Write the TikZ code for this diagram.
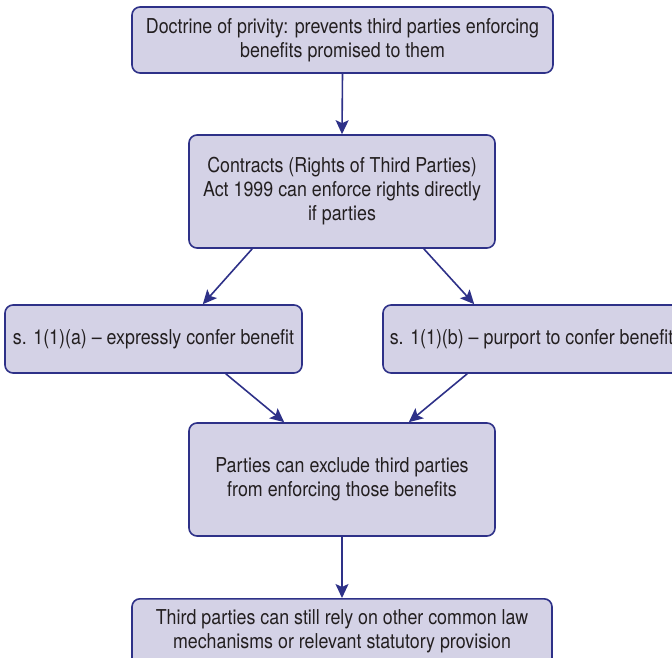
\documentclass[tikz,border=0pt]{standalone}
\usepackage{fontspec}
\setmainfont[FakeStretch=0.87]{TeX Gyre Heros}
\usetikzlibrary{arrows.meta,calc}
\definecolor{boxfill}{HTML}{D4D2E6}
\definecolor{boxline}{HTML}{2E3188}
\definecolor{txt}{HTML}{231F20}
\tikzset{
  fbox/.style={draw=boxline, fill=boxfill, line width=1.6pt, rounded corners=8pt,
    align=center, text=txt, inner sep=0pt, font=\fontsize{20.5}{24}\selectfont},
  ftext/.style={align=center, text=txt, inner sep=0pt, font=\fontsize{20.5}{24}\selectfont},
  conn/.style={draw=boxline, line width=1.6pt, -{Stealth[length=14pt,width=13pt,inset=3pt]}}
}
\begin{document}
\begin{tikzpicture}[x=1pt,y=-1pt]
\useasboundingbox (0,0) rectangle (672,658);
\clip (0,0) rectangle (672,658);
\node[fbox, minimum width=421pt, minimum height=66pt] (b1) at (342.5,40)
  {Doctrine of privity: prevents third parties enforcing\\benefits promised to them};
\node[fbox, minimum width=306pt, minimum height=113pt] (b2) at (342,191.5)
  {Contracts (Rights of Third Parties)\\Act 1999 can enforce rights directly\\if parties};
\node[fbox, minimum width=297pt, minimum height=68pt] (b3) at (153.5,339)
  {s. 1(1)(a) -- expressly confer benefit};
\node[fbox, minimum width=297pt, minimum height=68pt] (b4) at (531.5,339)
  {s. 1(1)(b) -- purport to confer benefit};
\node[fbox, minimum width=306pt, minimum height=113pt] (b5) at (342,479.5)
  {Parties can exclude third parties\\from enforcing those benefits};
\node[fbox, minimum width=420pt, minimum height=70pt, anchor=north] (b6) at (342,598) {};
\node[ftext] (b6t) at (342,631)
  {Third parties can still rely on other common law\\mechanisms or relevant statutory provision};
\draw[conn] (b1.south) -- (b2.north);
\draw[conn] ($(b2.south west)+(64,0)$) -- ($(b3.north east)+(-100,0)$);
\draw[conn] ($(b2.south east)+(-72,0)$) -- ($(b4.north west)+(92,0)$);
\draw[conn] ($(b3.south east)+(-77,0)$) -- ($(b5.north west)+(96,0)$);
\draw[conn] ($(b4.south west)+(85,0)$) -- ($(b5.north east)+(-87,0)$);
\draw[conn] (b5.south) -- (b6.north);
\end{tikzpicture}
\end{document}
